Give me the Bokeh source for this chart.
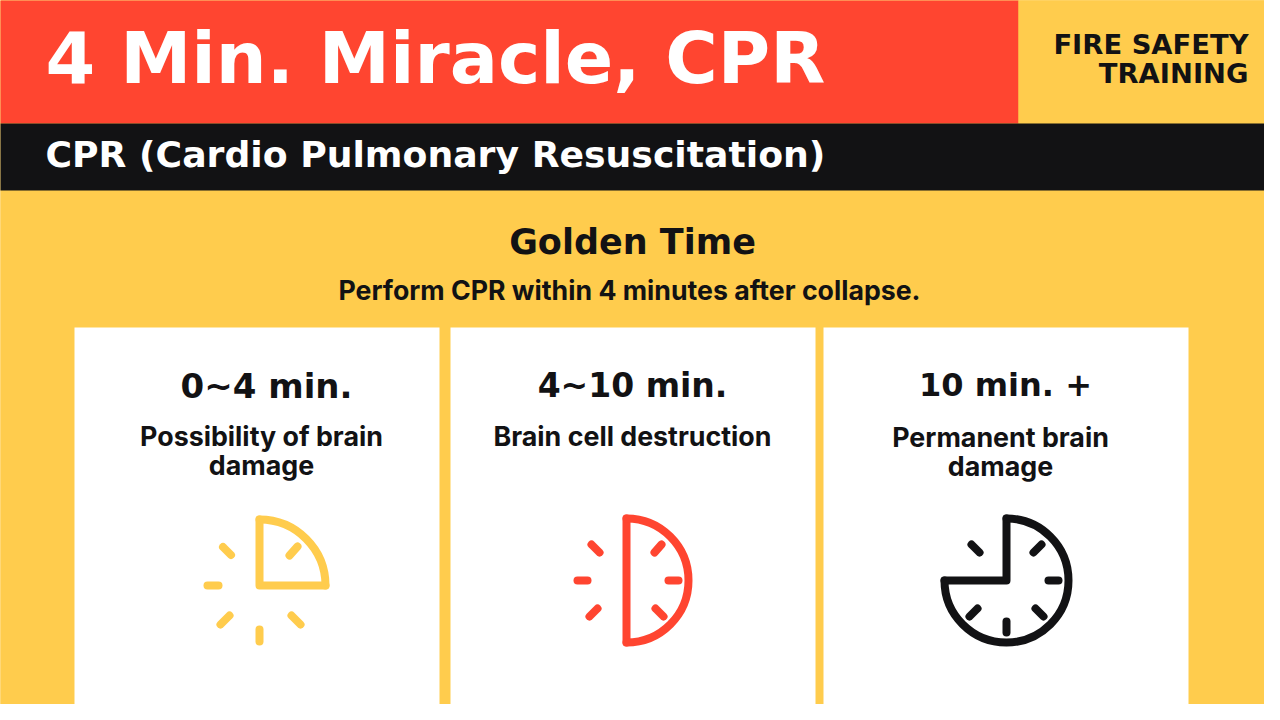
import math
from bokeh.core.properties import value
from bokeh.plotting import figure
from bokeh.embed import file_html
from bokeh.resources import INLINE

RED = "#FF4530"
BLACK = "#121214"
YELLOW = "#FFCC4D"
WHITE = "#FFFFFF"
HEAD = "DejaVu Sans"
BODY = "Inter"

# background and panels: left, right, top, bottom, colour
rect_left = [0, 0, 1026, 0, 82, 458, 831]
rect_right = [1280, 1026, 1280, 1280, 447, 823, 1196]
rect_top = [0, 0, 0, 131, 335, 335, 335]
rect_bottom = [720, 131, 131, 198, 720, 720, 720]
rect_color = [YELLOW, RED, YELLOW, BLACK, WHITE, WHITE, WHITE]

# texts
text_labels = ["4 Min. Miracle, CPR", "CPR (Cardio Pulmonary Resuscitation)",
               "FIRE SAFETY", "TRAINING", "Golden Time",
               "Perform CPR within 4 minutes after collapse.",
               "0~4 min.", "Possibility of brain", "damage",
               "4~10 min.", "Brain cell destruction",
               "10 min. +", "Permanent brain", "damage"]
text_x = [53, 53, 1256, 1256, 640, 637, 274, 269, 269, 640, 640, 1013, 1008, 1008]
text_y = [66, 162, 52, 81, 249, 297, 393, 443, 472, 393, 443, 392, 444, 473]
text_size = [71.5, 36.2, 27.4, 27.4, 35, 26.7, 34, 26.8, 26.8, 33, 26.8, 32, 26.8, 26.8]
text_font = [HEAD, HEAD, HEAD, HEAD, HEAD, BODY, HEAD, BODY, BODY, HEAD, BODY, HEAD, BODY, BODY]
text_color = [WHITE, WHITE, BLACK, BLACK, BLACK, BLACK, BLACK, BLACK, BLACK,
              BLACK, BLACK, BLACK, BLACK, BLACK]
text_align = ["left", "left", "right", "right"] + ["center"] * 10

# clock icons: arc centre, radius, sweep (deg, screen clockwise from 12), colour
clock_x = [267, 634, 1014]
clock_y = [593, 588, 588]
clock_r = [66, 62, 62]
clock_start = [0, 0, 0]
clock_end = [90, 180, 270]
clock_color = [YELLOW, RED, BLACK]

# straight edges of each sector
edge_x = [[333, 267, 267], [634, 634], [952, 1014, 1014]]
edge_y = [[593, 593, 527], [526, 650], [588, 588, 526]]

# tick marks
tick_x0 = [297, 230.5, 215, 228, 267, 299,
           662, 676, 663, 597, 585, 599,
           1041, 1056, 1043, 1014, 977, 979]
tick_y0 = [563, 554.5, 593, 632, 637, 623,
           560, 588, 616, 624, 588, 552,
           560, 588, 616, 629, 624, 552]
tick_x1 = [305, 238.5, 226, 237, 267, 308,
           669, 686, 671, 605, 595, 607,
           1049, 1066, 1051, 1014, 985, 987]
tick_y1 = [554, 562.5, 593, 623, 649, 632,
           552, 588, 624, 616, 588, 560,
           552, 588, 624, 640, 616, 560]
tick_color = [YELLOW] * 6 + [RED] * 6 + [BLACK] * 6

p = figure(width=1264, height=704, x_range=(8, 1272), y_range=(712, 8),
           output_backend="svg", toolbar_location=None, min_border=0,
           x_axis_type=None, y_axis_type=None, outline_line_color=None,
           background_fill_color=YELLOW, border_fill_color=YELLOW)
p.grid.visible = False

p.quad(left=rect_left, right=rect_right, top=rect_top, bottom=rect_bottom,
       fill_color=rect_color, line_color=None)

for x, y, r, a0, a1, c, ex, ey in zip(clock_x, clock_y, clock_r, clock_start,
                                      clock_end, clock_color, edge_x, edge_y):
    p.line(ex, ey, line_color=c, line_width=8, line_cap="round", line_join="round")
    p.arc(x=[x], y=[y], radius=[r],
          start_angle=[math.radians(90 - a1)], end_angle=[math.radians(90 - a0)],
          line_color=c, line_width=8, line_cap="round")

p.segment(x0=tick_x0, y0=tick_y0, x1=tick_x1, y1=tick_y1, line_color=tick_color,
          line_width=8, line_cap="round")

for i in range(len(text_labels)):
    p.text(x=[text_x[i]], y=[text_y[i]], text=[text_labels[i]], text_color=text_color[i],
           text_font=value(text_font[i]), text_font_size=f"{text_size[i]}px",
           text_font_style="bold", text_align=text_align[i], text_baseline="middle")

open("out.html", "w").write(file_html(p, INLINE))
